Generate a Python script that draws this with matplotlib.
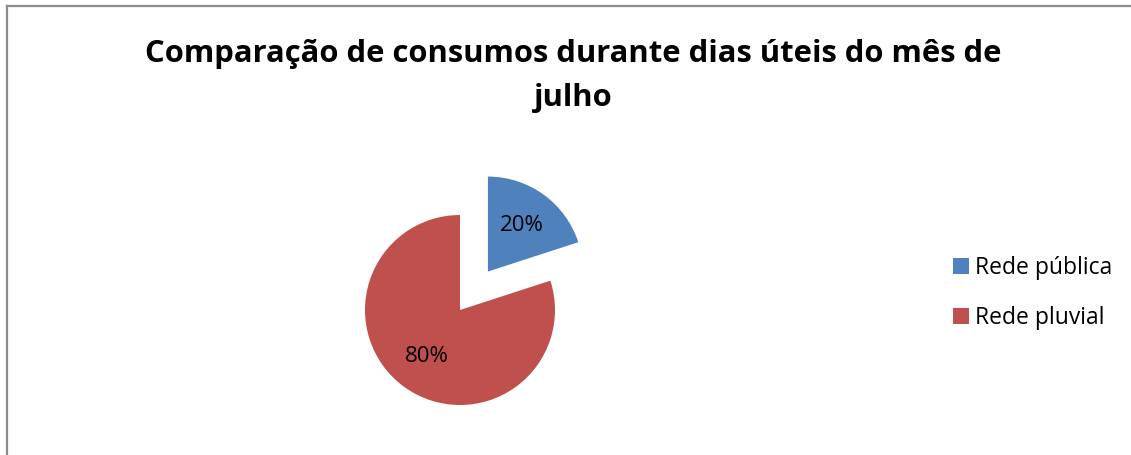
import matplotlib
matplotlib.use("Agg")
import matplotlib.pyplot as plt
from matplotlib.lines import Line2D

# Data
categories = ["Rede pública", "Rede pluvial"]
shares = [20, 80]
colors = ["#4F81BD", "#C0504D"]
title_lines = ["Comparação de consumos durante dias úteis do mês de", "julho"]

W, H = 1131, 455
fig = plt.figure(figsize=(W / 100, H / 100), dpi=100)
fig.patch.set_facecolor("white")
plt.rcParams["font.family"] = ["Open Sans", "DejaVu Sans"]

# Chart frame (left and top edges)
fig.add_artist(Line2D([7 / W, 7 / W], [0, 1 - 6 / H], color="#8c8c8c", lw=1.6,
                      transform=fig.transFigure))
fig.add_artist(Line2D([7 / W, 1], [1 - 6 / H, 1 - 6 / H], color="#8c8c8c", lw=1.6,
                      transform=fig.transFigure))

# Title
fig.text(573.5 / W, 1 - 62 / H, title_lines[0], ha="center", va="baseline",
         fontsize=22.3, fontweight="bold", color="black")
fig.text(573.5 / W, 1 - 106 / H, title_lines[1], ha="center", va="baseline",
         fontsize=22.3, fontweight="bold", color="black")

# Pie axes: centre at (460, 310) px, radius 95 px
cx, cy, r = 460, H - 310, 95
half = 140
ax = fig.add_axes([(cx - half) / W, (cy - half) / H, 2 * half / W, 2 * half / H])
wedges, texts, autotexts = ax.pie(
    shares, colors=colors, startangle=90, counterclock=False,
    explode=[0.5, 0.0], autopct="%d%%", pctdistance=0.6,
    wedgeprops=dict(linewidth=0), textprops=dict(fontsize=16, color="black"))
ax.set_xlim(-half / r, half / r)
ax.set_ylim(-half / r, half / r)
ax.set_aspect("equal")
ax.axis("off")

leg = fig.legend(wedges, categories, loc="upper left",
                 bbox_to_anchor=(953 / W, 1 - 256 / H), frameon=False,
                 fontsize=16.5, handlelength=0.7, handleheight=0.66,
                 handletextpad=0.27, labelspacing=1.14, borderpad=0,
                 borderaxespad=0)

fig.savefig("out.png", dpi=100, facecolor="white")
